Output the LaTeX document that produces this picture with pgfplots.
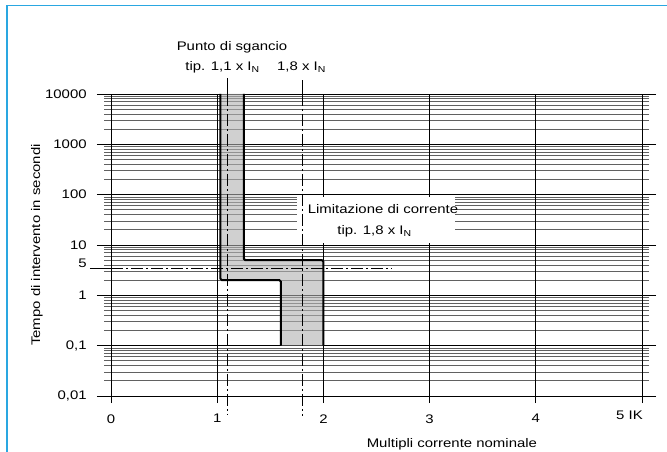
\documentclass[border=0pt]{standalone}
\usepackage{fontspec}
\setmainfont{Liberation Sans}[FakeStretch=1.2]
\usepackage{pgfplots}
\pgfplotsset{compat=1.18}
\definecolor{frameblue}{HTML}{2AA7E1}
\definecolor{gridgray}{gray}{0.38}
\begin{document}
\fontsize{12.5}{15}\selectfont
\begin{tikzpicture}[x=1bp,y=1bp,font=\fontsize{12.5}{15}\selectfont]
\useasboundingbox (0,0) rectangle (667,452);
\fill[white] (0,0) rectangle (667,452);
\draw[frameblue, line width=1.5bp] (7,0) -- (7,446.5) -- (667,446.5);
\begin{axis}[
  at={(111bp,56bp)}, anchor=south west,
  scale only axis, width=531bp, height=302bp,
  xmin=0, xmax=5, ymode=log, ymin=0.01, ymax=10000,
  clip=false,
  axis line style={draw=none},
  /pgf/number format/assume math mode=true,
  xtick={0,1,2,3,4}, xticklabels={0,1,2,3,4},
  xtick style={draw=none},
  ytick={0.01,0.1,1,10,100,1000,10000},
  yticklabels={{0,01},{0,1},1,10,100,1000,10000},
  yticklabel style={xshift=-6bp},
  minor ytick={0.02,0.03,0.04,0.05,0.06,0.07,0.08,0.09,
               0.2,0.3,0.4,0.5,0.6,0.7,0.8,0.9,
               2,3,4,5,6,7,8,9,
               20,30,40,50,60,70,80,90,
               200,300,400,500,600,700,800,900,
               2000,3000,4000,5000,6000,7000,8000,9000},
  tick align=outside,
  major tick length=14bp, minor tick length=7bp,
  major tick style={black, line width=0.8bp},
  minor tick style={gridgray, line width=0.9bp},
  ymajorgrids, yminorgrids,
  major grid style={black, line width=0.8bp},
  minor grid style={gridgray, line width=0.9bp},
  xlabel={Multipli corrente nominale},
  ylabel={Tempo di intervento in secondi},
  xlabel style={at={(rel axis cs:0.642,0)}, anchor=center, yshift=-48bp},
  ylabel style={at={(rel axis cs:0,0.5)}, anchor=center, yshift=74bp},
]
% vertical lines (axis at 0 and grid at 1..5)
\addplot[black, line width=0.9bp] coordinates {(0,0.0072) (0,10000)};
\addplot[black, line width=0.9bp] coordinates {(1,0.0072) (1,10000)};
\addplot[black, line width=0.9bp] coordinates {(2,0.0072) (2,10000)};
\addplot[black, line width=0.9bp] coordinates {(3,0.0072) (3,10000)};
\addplot[black, line width=0.9bp] coordinates {(4,0.0072) (4,10000)};
\addplot[black, line width=0.9bp] coordinates {(5,0.0072) (5,10000)};
% tripping band
\addplot[fill=black!30, fill opacity=0.6, draw=none] coordinates {(1.03,10000) (1.03,2) (1.6,2) (1.6,0.1) (2,0.1) (2,5) (1.25,5) (1.25,10000)} -- cycle;
\addplot[black, line width=2bp, rounded corners=1.5bp] coordinates {(1.03,10000) (1.03,2) (1.6,2) (1.6,0.1)};
\addplot[black, line width=2bp, rounded corners=1.5bp] coordinates {(1.25,10000) (1.25,5) (2,5) (2,0.1)};
% white label box
\fill[white] (axis cs:1.75,11) rectangle (axis cs:3.24,90);
% reference lines
\addplot[black, line width=0.8bp, dash pattern=on 12bp off 3bp on 2bp off 3bp] coordinates {(1.1,10000) (1.1,0.0042)};
\addplot[black, line width=0.8bp] coordinates {(1.1,10000) (1.1,20800)};
\addplot[black, line width=0.8bp, dash pattern=on 12bp off 3bp on 2bp off 3bp] coordinates {(1.8,10000) (1.8,0.004)};
\addplot[black, line width=0.8bp] coordinates {(1.8,10000) (1.8,18970)};
\addplot[black, line width=0.8bp] coordinates {(-0.2,3.5) (0,3.5)};
\addplot[black, line width=0.8bp, dash pattern=on 12bp off 3bp on 2bp off 3bp] coordinates {(0,3.5) (2.65,3.5)};
\end{axis}
% texts
\node at (232,405) {Punto di sgancio};
\node at (222.5,385) {tip. 1,1 x I\textsubscript{N}};
\node at (301.5,385) {1,8 x I\textsubscript{N}};
\node at (383,243) {Limitazione di corrente};
\node at (374.5,221) {tip. 1,8 x I\textsubscript{N}};
\node[anchor=east, inner sep=0pt] at (643,37) {5 IK};
\node[anchor=east, inner sep=0pt] at (87,189) {5};
\end{tikzpicture}
\end{document}
